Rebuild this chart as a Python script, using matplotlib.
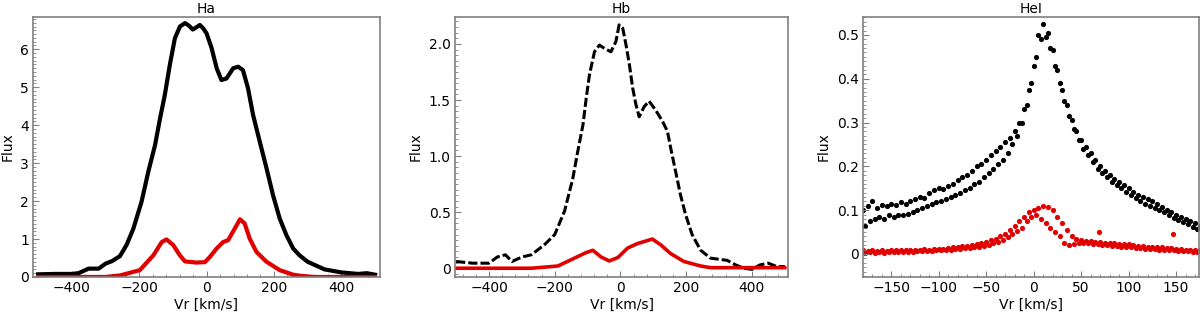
import numpy as np
import matplotlib
matplotlib.use("Agg")
import matplotlib.pyplot as plt
from matplotlib.ticker import AutoMinorLocator

# Ha profile (velocity km/s, flux)
ha_v = [-500, -450, -400, -380, -350, -320, -300, -280, -257, -237, -217, -193, -173, -153,
        -138, -124, -109, -94, -79, -64, -52, -41, -30, -20, -10, 0, 15, 30, 44, 59, 79, 94,
        108, 123, 138, 158, 178, 197, 217, 237, 257, 276, 300, 350, 400, 450, 475, 500]
ha_black = [0.07, 0.08, 0.08, 0.10, 0.22, 0.22, 0.35, 0.42, 0.55, 0.85, 1.28, 1.98, 2.77,
            3.47, 4.18, 4.79, 5.59, 6.29, 6.60, 6.69, 6.62, 6.52, 6.58, 6.64, 6.55, 6.42,
            6.03, 5.50, 5.19, 5.23, 5.50, 5.54, 5.45, 4.97, 4.27, 3.56, 2.86, 2.16, 1.54,
            1.10, 0.75, 0.57, 0.40, 0.20, 0.12, 0.08, 0.10, 0.06]
ha_red_v = [-500, -300, -257, -198, -158, -133, -119, -99, -79, -64, -31, -5, 10, 30, 49,
            64, 84, 99, 113, 128, 148, 178, 217, 257, 280, 320, 500]
ha_red = [0.0, 0.0, 0.04, 0.18, 0.57, 0.92, 0.99, 0.84, 0.57, 0.41, 0.38, 0.39, 0.53, 0.75,
          0.92, 0.97, 1.28, 1.52, 1.41, 1.01, 0.66, 0.40, 0.18, 0.06, 0.03, 0.0, 0.0]

# Hb profile
hb_v = [-500, -450, -400, -375, -350, -330, -300, -271, -231, -200, -170, -145, -130, -114,
        -104, -94, -79, -64, -49, -29, -14, -4, 7, 17, 27, 37, 47, 57, 72, 87, 107, 128,
        143, 153, 168, 183, 198, 218, 244, 274, 300, 325, 350, 375, 400, 425, 450, 475,
        500]
hb_black = [0.06, 0.045, 0.045, 0.10, 0.12, 0.06, 0.10, 0.12, 0.21, 0.30, 0.51, 0.80, 1.04,
            1.28, 1.52, 1.73, 1.93, 1.99, 1.96, 1.93, 2.02, 2.17, 2.14, 1.99, 1.82, 1.61, 1.46,
            1.35, 1.44, 1.49, 1.41, 1.31, 1.22, 1.07, 0.86, 0.65, 0.48, 0.30, 0.16, 0.09, 0.08,
            0.07, 0.03, 0.00, -0.01, 0.03, 0.045, 0.015, 0.015]
hb_red_v = [-500, -271, -190, -140, -104, -84, -59, -34, -8, 22, 52, 97, 122, 153, 193, 244,
            274, 500]
hb_red = [0.0, 0.0, 0.02, 0.09, 0.14, 0.16, 0.10, 0.065, 0.095, 0.18, 0.22, 0.26, 0.21, 0.13,
          0.06, 0.02, 0.005, 0.005]

# HeI profile: two interleaved noisy bands per spectrum
hei_v = np.arange(-180, 176, 5)
hei_v2 = hei_v + 2.5
hei_black_a = [0.100, 0.110, 0.120, 0.105, 0.112, 0.110, 0.115, 0.112, 0.118, 0.115, 0.120,
               0.125, 0.130, 0.128, 0.140, 0.145, 0.150, 0.148, 0.155, 0.160, 0.170, 0.175,
               0.180, 0.190, 0.200, 0.205, 0.215, 0.225, 0.235, 0.245, 0.255, 0.265, 0.280,
               0.300, 0.330, 0.375, 0.430, 0.500, 0.525, 0.505, 0.465, 0.420, 0.375, 0.340,
               0.305, 0.280, 0.260, 0.245, 0.230, 0.215, 0.200, 0.190, 0.180, 0.172, 0.165,
               0.158, 0.150, 0.142, 0.135, 0.130, 0.125, 0.120, 0.115, 0.108, 0.100, 0.095,
               0.090, 0.085, 0.080, 0.075, 0.070, 0.065]
hei_black_b = [0.065, 0.075, 0.080, 0.085, 0.080, 0.088, 0.085, 0.090, 0.088, 0.092, 0.095,
               0.100, 0.105, 0.110, 0.115, 0.118, 0.122, 0.125, 0.130, 0.135, 0.140, 0.145,
               0.150, 0.160, 0.165, 0.175, 0.185, 0.195, 0.205, 0.215, 0.230, 0.250, 0.270,
               0.300, 0.340, 0.390, 0.450, 0.490, 0.495, 0.470, 0.430, 0.390, 0.350, 0.315,
               0.285, 0.260, 0.240, 0.225, 0.210, 0.195, 0.185, 0.175, 0.165, 0.158, 0.150,
               0.142, 0.135, 0.128, 0.122, 0.115, 0.110, 0.105, 0.100, 0.095, 0.088, 0.082,
               0.078, 0.072, 0.068, 0.062, 0.058, 0.055]
hei_red_a = [0.008, 0.006, 0.008, 0.007, 0.008, 0.007, 0.009, 0.008, 0.008, 0.009, 0.010,
             0.009, 0.010, 0.011, 0.010, 0.011, 0.012, 0.012, 0.014, 0.015, 0.016, 0.018,
             0.019, 0.020, 0.022, 0.024, 0.028, 0.032, 0.035, 0.040, 0.045, 0.055, 0.065,
             0.075, 0.085, 0.095, 0.100, 0.105, 0.110, 0.108, 0.100, 0.085, 0.070, 0.055,
             0.042, 0.035, 0.032, 0.030, 0.030, 0.028, 0.027, 0.026, 0.025, 0.024, 0.023,
             0.022, 0.022, 0.020, 0.019, 0.018, 0.017, 0.016, 0.016, 0.015, 0.014, 0.013,
             0.012, 0.011, 0.010, 0.010, 0.009, 0.008]
hei_red_b = [0.003, 0.004, 0.003, 0.004, 0.003, 0.005, 0.004, 0.005, 0.004, 0.005, 0.005,
             0.006, 0.006, 0.007, 0.007, 0.008, 0.008, 0.009, 0.010, 0.011, 0.012, 0.013,
             0.014, 0.015, 0.016, 0.018, 0.020, 0.024, 0.028, 0.032, 0.038, 0.045, 0.052,
             0.060, 0.075, 0.085, 0.090, 0.080, 0.070, 0.060, 0.050, 0.040, 0.025, 0.020,
             0.022, 0.025, 0.025, 0.024, 0.023, 0.022, 0.021, 0.020, 0.019, 0.018, 0.017,
             0.016, 0.015, 0.014, 0.013, 0.012, 0.012, 0.011, 0.010, 0.009, 0.008, 0.008,
             0.007, 0.006, 0.006, 0.005, 0.005, 0.004]
hei_red_v_extra = [69, 147]
hei_red_extra = [0.050, 0.045]

RED = '#e00000'
SPINE = '#808080'
FS = 10

plt.rcParams['font.family'] = 'DejaVu Sans'
plt.rcParams['font.size'] = FS

fig = plt.figure(figsize=(12, 3.18), dpi=100)
ax1 = fig.add_axes([0.0275, 0.129, 0.289, 0.8175])
ax2 = fig.add_axes([0.379, 0.129, 0.278, 0.8175])
ax3 = fig.add_axes([0.719, 0.129, 0.280, 0.8175])

ax1.plot(ha_v, ha_black, color='black', lw=3)
ax1.plot(ha_red_v, ha_red, color=RED, lw=3)
ax1.set_xlim(-515, 514)
ax1.set_ylim(0, 6.85)
ax1.set_yticks([0, 1, 2, 3, 4, 5, 6])
ax1.set_xticks([-400, -200, 0, 200, 400])
ax1.set_title('Ha', fontsize=FS, pad=3)

ax2.plot(hb_v, hb_black, color='black', lw=2.2, ls=(0, (3, 1)))
ax2.plot(hb_red_v, hb_red, color=RED, lw=2.6)
ax2.set_xlim(-504, 511)
ax2.set_ylim(-0.078, 2.24)
ax2.set_yticks([0, 0.5, 1.0, 1.5, 2.0])
ax2.set_yticklabels(['0', '0.5', '1.0', '1.5', '2.0'])
ax2.set_xticks([-400, -200, 0, 200, 400])
ax2.set_title('Hb', fontsize=FS, pad=3)

ax3.scatter(hei_v, hei_black_a, s=14, color='black', lw=0)
ax3.scatter(hei_v2, hei_black_b, s=14, color='black', lw=0)
ax3.scatter(hei_v, hei_red_a, s=14, color=RED, lw=0)
ax3.scatter(hei_v2, hei_red_b, s=14, color=RED, lw=0)
ax3.scatter(hei_red_v_extra, hei_red_extra, s=14, color=RED, lw=0)
ax3.set_xlim(-180, 174)
ax3.set_ylim(-0.0525, 0.541)
ax3.set_yticks([0, 0.1, 0.2, 0.3, 0.4, 0.5])
ax3.set_yticklabels(['0', '0.1', '0.2', '0.3', '0.4', '0.5'])
ax3.set_xticks([-150, -100, -50, 0, 50, 100, 150])
ax3.set_title('HeI', fontsize=FS, pad=3)

for ax in (ax1, ax2, ax3):
    ax.set_xlabel('Vr [km/s]', fontsize=FS, labelpad=2)
    ax.set_ylabel('Flux', fontsize=FS, labelpad=4)
    for s in ax.spines.values():
        s.set_color(SPINE)
        s.set_linewidth(1.2)
    ax.xaxis.set_minor_locator(AutoMinorLocator(5))
    ax.yaxis.set_minor_locator(AutoMinorLocator(10))
    ax.tick_params(which='both', direction='in', top=False, right=False,
                   color=SPINE, labelsize=FS, pad=3)
    ax.tick_params(which='major', length=4)
    ax.tick_params(which='minor', length=2)

fig.savefig('out.png', dpi=100)
